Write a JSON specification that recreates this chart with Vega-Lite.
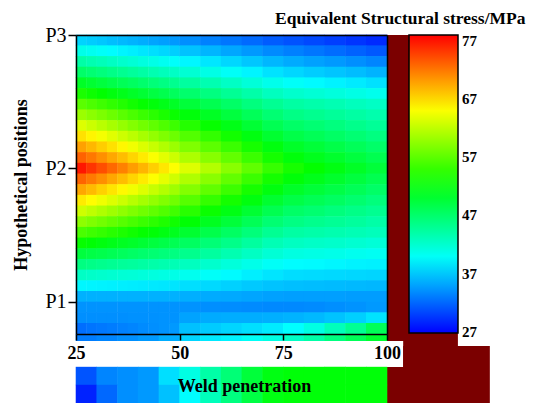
{
 "$schema": "https://vega.github.io/schema/vega-lite/v6.json",
 "width": 311,
 "height": 299,
 "autosize": "none",
 "padding": {"left": 76, "top": 35, "right": 158, "bottom": 69},
 "background": "white",
 "title": {"text": "Equivalent Structural stress/MPa", "anchor": "start", "frame": "group", "dx": 199, "dy": 11, "offset": 9, "font": "Liberation Serif", "fontSize": 17.5, "fontWeight": "bold", "color": "black"},
 "datasets": {
  "outside": [
   {"x": 100, "x2": 117.1, "y": 0.7075, "y2": 3},
   {"x": 103.9, "x2": 117.1, "y": 0.513, "y2": 0.7075},
   {"x": 103.9, "x2": 124.8, "y": 0.513, "y2": 0.67},
   {"x": 100, "x2": 124.8, "y": 0.243, "y2": 0.513}
  ],
  "left": [
   {"x":26.25,"y":2.96,"v":37.4},{"x":28.75,"y":2.96,"v":37.1},{"x":31.25,"y":2.96,"v":36.8},{"x":33.75,"y":2.96,"v":36.4},{"x":36.25,"y":2.96,"v":36.1},{"x":38.75,"y":2.96,"v":35.8},{"x":41.25,"y":2.96,"v":35.5},{"x":43.75,"y":2.96,"v":35.1},{"x":46.25,"y":2.96,"v":34.8},{"x":48.75,"y":2.96,"v":34.5},
   {"x":26.25,"y":2.88,"v":40.7},{"x":28.75,"y":2.88,"v":40.3},{"x":31.25,"y":2.88,"v":39.9},{"x":33.75,"y":2.88,"v":39.5},{"x":36.25,"y":2.88,"v":39.1},{"x":38.75,"y":2.88,"v":38.8},{"x":41.25,"y":2.88,"v":38.4},{"x":43.75,"y":2.88,"v":38.0},{"x":46.25,"y":2.88,"v":37.6},{"x":48.75,"y":2.88,"v":37.2},
   {"x":26.25,"y":2.80,"v":44.0},{"x":28.75,"y":2.80,"v":43.5},{"x":31.25,"y":2.80,"v":43.1},{"x":33.75,"y":2.80,"v":42.6},{"x":36.25,"y":2.80,"v":42.1},{"x":38.75,"y":2.80,"v":41.7},{"x":41.25,"y":2.80,"v":41.2},{"x":43.75,"y":2.80,"v":40.8},{"x":46.25,"y":2.80,"v":40.3},{"x":48.75,"y":2.80,"v":39.8},
   {"x":26.25,"y":2.72,"v":47.2},{"x":28.75,"y":2.72,"v":46.7},{"x":31.25,"y":2.72,"v":46.2},{"x":33.75,"y":2.72,"v":45.6},{"x":36.25,"y":2.72,"v":45.1},{"x":38.75,"y":2.72,"v":44.6},{"x":41.25,"y":2.72,"v":44.1},{"x":43.75,"y":2.72,"v":43.5},{"x":46.25,"y":2.72,"v":43.0},{"x":48.75,"y":2.72,"v":42.5},
   {"x":26.25,"y":2.64,"v":50.5},{"x":28.75,"y":2.64,"v":49.9},{"x":31.25,"y":2.64,"v":49.3},{"x":33.75,"y":2.64,"v":48.7},{"x":36.25,"y":2.64,"v":48.1},{"x":38.75,"y":2.64,"v":47.6},{"x":41.25,"y":2.64,"v":47.0},{"x":43.75,"y":2.64,"v":46.4},{"x":46.25,"y":2.64,"v":45.8},{"x":48.75,"y":2.64,"v":45.2},
   {"x":26.25,"y":2.56,"v":53.7},{"x":28.75,"y":2.56,"v":53.0},{"x":31.25,"y":2.56,"v":52.4},{"x":33.75,"y":2.56,"v":51.7},{"x":36.25,"y":2.56,"v":51.1},{"x":38.75,"y":2.56,"v":50.4},{"x":41.25,"y":2.56,"v":49.8},{"x":43.75,"y":2.56,"v":49.1},{"x":46.25,"y":2.56,"v":48.5},{"x":48.75,"y":2.56,"v":47.8},
   {"x":26.25,"y":2.48,"v":56.9},{"x":28.75,"y":2.48,"v":56.2},{"x":31.25,"y":2.48,"v":55.5},{"x":33.75,"y":2.48,"v":54.8},{"x":36.25,"y":2.48,"v":54.1},{"x":38.75,"y":2.48,"v":53.3},{"x":41.25,"y":2.48,"v":52.6},{"x":43.75,"y":2.48,"v":51.9},{"x":46.25,"y":2.48,"v":51.2},{"x":48.75,"y":2.48,"v":50.5},
   {"x":26.25,"y":2.40,"v":60.2},{"x":28.75,"y":2.40,"v":59.4},{"x":31.25,"y":2.40,"v":58.6},{"x":33.75,"y":2.40,"v":57.8},{"x":36.25,"y":2.40,"v":56.9},{"x":38.75,"y":2.40,"v":56.1},{"x":41.25,"y":2.40,"v":55.3},{"x":43.75,"y":2.40,"v":54.5},{"x":46.25,"y":2.40,"v":53.7},{"x":48.75,"y":2.40,"v":52.9},
   {"x":26.25,"y":2.32,"v":63.5},{"x":28.75,"y":2.32,"v":62.6},{"x":31.25,"y":2.32,"v":61.7},{"x":33.75,"y":2.32,"v":60.8},{"x":36.25,"y":2.32,"v":59.9},{"x":38.75,"y":2.32,"v":59.0},{"x":41.25,"y":2.32,"v":58.1},{"x":43.75,"y":2.32,"v":57.2},{"x":46.25,"y":2.32,"v":56.3},{"x":48.75,"y":2.32,"v":55.4},
   {"x":26.25,"y":2.24,"v":66.7},{"x":28.75,"y":2.24,"v":65.7},{"x":31.25,"y":2.24,"v":64.7},{"x":33.75,"y":2.24,"v":63.7},{"x":36.25,"y":2.24,"v":62.7},{"x":38.75,"y":2.24,"v":61.8},{"x":41.25,"y":2.24,"v":60.8},{"x":43.75,"y":2.24,"v":59.8},{"x":46.25,"y":2.24,"v":58.8},{"x":48.75,"y":2.24,"v":57.8},
   {"x":26.25,"y":2.16,"v":69.9},{"x":28.75,"y":2.16,"v":68.8},{"x":31.25,"y":2.16,"v":67.7},{"x":33.75,"y":2.16,"v":66.7},{"x":36.25,"y":2.16,"v":65.6},{"x":38.75,"y":2.16,"v":64.5},{"x":41.25,"y":2.16,"v":63.4},{"x":43.75,"y":2.16,"v":62.4},{"x":46.25,"y":2.16,"v":61.3},{"x":48.75,"y":2.16,"v":60.2},
   {"x":26.25,"y":2.08,"v":73.1},{"x":28.75,"y":2.08,"v":72.0},{"x":31.25,"y":2.08,"v":70.8},{"x":33.75,"y":2.08,"v":69.6},{"x":36.25,"y":2.08,"v":68.5},{"x":38.75,"y":2.08,"v":67.3},{"x":41.25,"y":2.08,"v":66.2},{"x":43.75,"y":2.08,"v":65.0},{"x":46.25,"y":2.08,"v":63.8},{"x":48.75,"y":2.08,"v":62.7},
   {"x":26.25,"y":2.00,"v":76.9},{"x":28.75,"y":2.00,"v":75.4},{"x":31.25,"y":2.00,"v":74.1},{"x":33.75,"y":2.00,"v":72.8},{"x":36.25,"y":2.00,"v":71.5},{"x":38.75,"y":2.00,"v":70.1},{"x":41.25,"y":2.00,"v":68.9},{"x":43.75,"y":2.00,"v":67.6},{"x":46.25,"y":2.00,"v":66.4},{"x":48.75,"y":2.00,"v":65.1},
   {"x":26.25,"y":1.92,"v":73.0},{"x":28.75,"y":1.92,"v":71.9},{"x":31.25,"y":1.92,"v":70.8},{"x":33.75,"y":1.92,"v":69.6},{"x":36.25,"y":1.92,"v":68.5},{"x":38.75,"y":1.92,"v":67.3},{"x":41.25,"y":1.92,"v":66.2},{"x":43.75,"y":1.92,"v":65.1},{"x":46.25,"y":1.92,"v":63.9},{"x":48.75,"y":1.92,"v":62.8},
   {"x":26.25,"y":1.84,"v":69.6},{"x":28.75,"y":1.84,"v":68.6},{"x":31.25,"y":1.84,"v":67.5},{"x":33.75,"y":1.84,"v":66.5},{"x":36.25,"y":1.84,"v":65.5},{"x":38.75,"y":1.84,"v":64.5},{"x":41.25,"y":1.84,"v":63.5},{"x":43.75,"y":1.84,"v":62.4},{"x":46.25,"y":1.84,"v":61.4},{"x":48.75,"y":1.84,"v":60.4},
   {"x":26.25,"y":1.76,"v":66.2},{"x":28.75,"y":1.76,"v":65.3},{"x":31.25,"y":1.76,"v":64.4},{"x":33.75,"y":1.76,"v":63.5},{"x":36.25,"y":1.76,"v":62.6},{"x":38.75,"y":1.76,"v":61.6},{"x":41.25,"y":1.76,"v":60.7},{"x":43.75,"y":1.76,"v":59.8},{"x":46.25,"y":1.76,"v":58.9},{"x":48.75,"y":1.76,"v":58.0},
   {"x":26.25,"y":1.68,"v":62.8},{"x":28.75,"y":1.68,"v":62.0},{"x":31.25,"y":1.68,"v":61.2},{"x":33.75,"y":1.68,"v":60.4},{"x":36.25,"y":1.68,"v":59.6},{"x":38.75,"y":1.68,"v":58.8},{"x":41.25,"y":1.68,"v":58.0},{"x":43.75,"y":1.68,"v":57.2},{"x":46.25,"y":1.68,"v":56.4},{"x":48.75,"y":1.68,"v":55.6},
   {"x":26.25,"y":1.60,"v":59.5},{"x":28.75,"y":1.60,"v":58.8},{"x":31.25,"y":1.60,"v":58.1},{"x":33.75,"y":1.60,"v":57.4},{"x":36.25,"y":1.60,"v":56.7},{"x":38.75,"y":1.60,"v":56.0},{"x":41.25,"y":1.60,"v":55.3},{"x":43.75,"y":1.60,"v":54.6},{"x":46.25,"y":1.60,"v":53.9},{"x":48.75,"y":1.60,"v":53.2},
   {"x":26.25,"y":1.52,"v":56.1},{"x":28.75,"y":1.52,"v":55.5},{"x":31.25,"y":1.52,"v":55.0},{"x":33.75,"y":1.52,"v":54.4},{"x":36.25,"y":1.52,"v":53.8},{"x":38.75,"y":1.52,"v":53.2},{"x":41.25,"y":1.52,"v":52.6},{"x":43.75,"y":1.52,"v":52.1},{"x":46.25,"y":1.52,"v":51.5},{"x":48.75,"y":1.52,"v":50.9},
   {"x":26.25,"y":1.44,"v":52.7},{"x":28.75,"y":1.44,"v":52.2},{"x":31.25,"y":1.44,"v":51.7},{"x":33.75,"y":1.44,"v":51.2},{"x":36.25,"y":1.44,"v":50.7},{"x":38.75,"y":1.44,"v":50.3},{"x":41.25,"y":1.44,"v":49.8},{"x":43.75,"y":1.44,"v":49.3},{"x":46.25,"y":1.44,"v":48.8},{"x":48.75,"y":1.44,"v":48.3},
   {"x":26.25,"y":1.36,"v":49.3},{"x":28.75,"y":1.36,"v":48.9},{"x":31.25,"y":1.36,"v":48.6},{"x":33.75,"y":1.36,"v":48.2},{"x":36.25,"y":1.36,"v":47.8},{"x":38.75,"y":1.36,"v":47.4},{"x":41.25,"y":1.36,"v":47.0},{"x":43.75,"y":1.36,"v":46.7},{"x":46.25,"y":1.36,"v":46.3},{"x":48.75,"y":1.36,"v":45.9},
   {"x":26.25,"y":1.28,"v":45.9},{"x":28.75,"y":1.28,"v":45.6},{"x":31.25,"y":1.28,"v":45.3},{"x":33.75,"y":1.28,"v":45.0},{"x":36.25,"y":1.28,"v":44.7},{"x":38.75,"y":1.28,"v":44.5},{"x":41.25,"y":1.28,"v":44.2},{"x":43.75,"y":1.28,"v":43.9},{"x":46.25,"y":1.28,"v":43.6},{"x":48.75,"y":1.28,"v":43.3},
   {"x":26.25,"y":1.20,"v":42.5},{"x":28.75,"y":1.20,"v":42.3},{"x":31.25,"y":1.20,"v":42.1},{"x":33.75,"y":1.20,"v":41.9},{"x":36.25,"y":1.20,"v":41.7},{"x":38.75,"y":1.20,"v":41.6},{"x":41.25,"y":1.20,"v":41.4},{"x":43.75,"y":1.20,"v":41.2},{"x":46.25,"y":1.20,"v":41.0},{"x":48.75,"y":1.20,"v":40.8},
   {"x":26.25,"y":1.12,"v":39.2},{"x":28.75,"y":1.12,"v":39.1},{"x":31.25,"y":1.12,"v":39.0},{"x":33.75,"y":1.12,"v":38.9},{"x":36.25,"y":1.12,"v":38.8},{"x":38.75,"y":1.12,"v":38.7},{"x":41.25,"y":1.12,"v":38.6},{"x":43.75,"y":1.12,"v":38.5},{"x":46.25,"y":1.12,"v":38.4},{"x":48.75,"y":1.12,"v":38.3},
   {"x":26.25,"y":1.04,"v":35.7},{"x":28.75,"y":1.04,"v":35.7},{"x":31.25,"y":1.04,"v":35.7},{"x":33.75,"y":1.04,"v":35.7},{"x":36.25,"y":1.04,"v":35.7},{"x":38.75,"y":1.04,"v":35.7},{"x":41.25,"y":1.04,"v":35.7},{"x":43.75,"y":1.04,"v":35.7},{"x":46.25,"y":1.04,"v":35.7},{"x":48.75,"y":1.04,"v":35.7},
   {"x":26.25,"y":0.96,"v":34.2},{"x":28.75,"y":0.96,"v":34.2},{"x":31.25,"y":0.96,"v":34.2},{"x":33.75,"y":0.96,"v":34.2},{"x":36.25,"y":0.96,"v":34.2},{"x":38.75,"y":0.96,"v":34.2},{"x":41.25,"y":0.96,"v":34.2},{"x":43.75,"y":0.96,"v":34.2},{"x":46.25,"y":0.96,"v":34.2},{"x":48.75,"y":0.96,"v":34.2},
   {"x":26.25,"y":0.88,"v":34.0},{"x":28.75,"y":0.88,"v":34.0},{"x":31.25,"y":0.88,"v":34.0},{"x":33.75,"y":0.88,"v":34.0},{"x":36.25,"y":0.88,"v":34.0},{"x":38.75,"y":0.88,"v":34.1},{"x":41.25,"y":0.88,"v":34.1},{"x":43.75,"y":0.88,"v":34.1},{"x":46.25,"y":0.88,"v":34.2},{"x":48.75,"y":0.88,"v":34.2},
   {"x":26.25,"y":0.80,"v":32.3},{"x":28.75,"y":0.80,"v":32.6},{"x":31.25,"y":0.80,"v":32.8},{"x":33.75,"y":0.80,"v":33.0},{"x":36.25,"y":0.80,"v":33.3},{"x":38.75,"y":0.80,"v":33.5},{"x":41.25,"y":0.80,"v":33.8},{"x":43.75,"y":0.80,"v":34.0},{"x":46.25,"y":0.80,"v":34.2},{"x":48.75,"y":0.80,"v":34.5}
  ],
  "right": [
   {"x":52.5,"y":2.96,"v":34.0},{"x":57.5,"y":2.96,"v":33.3},{"x":62.5,"y":2.96,"v":32.7},{"x":67.5,"y":2.96,"v":32.1},{"x":72.5,"y":2.96,"v":31.4},{"x":77.5,"y":2.96,"v":30.9},{"x":82.5,"y":2.96,"v":30.4},{"x":87.5,"y":2.96,"v":29.9},{"x":92.5,"y":2.96,"v":29.4},{"x":97.5,"y":2.96,"v":28.9},
   {"x":52.5,"y":2.88,"v":36.6},{"x":57.5,"y":2.88,"v":35.9},{"x":62.5,"y":2.88,"v":35.2},{"x":67.5,"y":2.88,"v":34.5},{"x":72.5,"y":2.88,"v":33.8},{"x":77.5,"y":2.88,"v":33.2},{"x":82.5,"y":2.88,"v":32.7},{"x":87.5,"y":2.88,"v":32.2},{"x":92.5,"y":2.88,"v":31.7},{"x":97.5,"y":2.88,"v":31.2},
   {"x":52.5,"y":2.80,"v":39.2},{"x":57.5,"y":2.80,"v":38.4},{"x":62.5,"y":2.80,"v":37.6},{"x":67.5,"y":2.80,"v":36.8},{"x":72.5,"y":2.80,"v":36.0},{"x":77.5,"y":2.80,"v":35.4},{"x":82.5,"y":2.80,"v":34.9},{"x":87.5,"y":2.80,"v":34.5},{"x":92.5,"y":2.80,"v":34.0},{"x":97.5,"y":2.80,"v":33.5},
   {"x":52.5,"y":2.72,"v":41.8},{"x":57.5,"y":2.72,"v":40.9},{"x":62.5,"y":2.72,"v":40.0},{"x":67.5,"y":2.72,"v":39.1},{"x":72.5,"y":2.72,"v":38.2},{"x":77.5,"y":2.72,"v":37.6},{"x":82.5,"y":2.72,"v":37.1},{"x":87.5,"y":2.72,"v":36.7},{"x":92.5,"y":2.72,"v":36.3},{"x":97.5,"y":2.72,"v":35.8},
   {"x":52.5,"y":2.64,"v":44.4},{"x":57.5,"y":2.64,"v":43.5},{"x":62.5,"y":2.64,"v":42.5},{"x":67.5,"y":2.64,"v":41.5},{"x":72.5,"y":2.64,"v":40.6},{"x":77.5,"y":2.64,"v":39.9},{"x":82.5,"y":2.64,"v":39.4},{"x":87.5,"y":2.64,"v":39.0},{"x":92.5,"y":2.64,"v":38.6},{"x":97.5,"y":2.64,"v":38.1},
   {"x":52.5,"y":2.56,"v":47.0},{"x":57.5,"y":2.56,"v":46.0},{"x":62.5,"y":2.56,"v":44.9},{"x":67.5,"y":2.56,"v":43.9},{"x":72.5,"y":2.56,"v":42.8},{"x":77.5,"y":2.56,"v":42.1},{"x":82.5,"y":2.56,"v":41.7},{"x":87.5,"y":2.56,"v":41.3},{"x":92.5,"y":2.56,"v":40.9},{"x":97.5,"y":2.56,"v":40.5},
   {"x":52.5,"y":2.48,"v":49.5},{"x":57.5,"y":2.48,"v":48.4},{"x":62.5,"y":2.48,"v":47.3},{"x":67.5,"y":2.48,"v":46.1},{"x":72.5,"y":2.48,"v":45.0},{"x":77.5,"y":2.48,"v":44.2},{"x":82.5,"y":2.48,"v":43.8},{"x":87.5,"y":2.48,"v":43.4},{"x":92.5,"y":2.48,"v":42.9},{"x":97.5,"y":2.48,"v":42.5},
   {"x":52.5,"y":2.40,"v":51.9},{"x":57.5,"y":2.40,"v":50.6},{"x":62.5,"y":2.40,"v":49.3},{"x":67.5,"y":2.40,"v":48.0},{"x":72.5,"y":2.40,"v":46.7},{"x":77.5,"y":2.40,"v":45.7},{"x":82.5,"y":2.40,"v":45.2},{"x":87.5,"y":2.40,"v":44.7},{"x":92.5,"y":2.40,"v":44.2},{"x":97.5,"y":2.40,"v":43.7},
   {"x":52.5,"y":2.32,"v":54.2},{"x":57.5,"y":2.32,"v":52.7},{"x":62.5,"y":2.32,"v":51.3},{"x":67.5,"y":2.32,"v":49.8},{"x":72.5,"y":2.32,"v":48.3},{"x":77.5,"y":2.32,"v":47.3},{"x":82.5,"y":2.32,"v":46.7},{"x":87.5,"y":2.32,"v":46.1},{"x":92.5,"y":2.32,"v":45.4},{"x":97.5,"y":2.32,"v":44.8},
   {"x":52.5,"y":2.24,"v":56.5},{"x":57.5,"y":2.24,"v":54.9},{"x":62.5,"y":2.24,"v":53.3},{"x":67.5,"y":2.24,"v":51.6},{"x":72.5,"y":2.24,"v":50.0},{"x":77.5,"y":2.24,"v":48.8},{"x":82.5,"y":2.24,"v":48.1},{"x":87.5,"y":2.24,"v":47.4},{"x":92.5,"y":2.24,"v":46.7},{"x":97.5,"y":2.24,"v":46.0},
   {"x":52.5,"y":2.16,"v":58.8},{"x":57.5,"y":2.16,"v":57.0},{"x":62.5,"y":2.16,"v":55.3},{"x":67.5,"y":2.16,"v":53.5},{"x":72.5,"y":2.16,"v":51.7},{"x":77.5,"y":2.16,"v":50.4},{"x":82.5,"y":2.16,"v":49.6},{"x":87.5,"y":2.16,"v":48.8},{"x":92.5,"y":2.16,"v":48.0},{"x":97.5,"y":2.16,"v":47.2},
   {"x":52.5,"y":2.08,"v":61.1},{"x":57.5,"y":2.08,"v":59.2},{"x":62.5,"y":2.08,"v":57.3},{"x":67.5,"y":2.08,"v":55.3},{"x":72.5,"y":2.08,"v":53.4},{"x":77.5,"y":2.08,"v":51.9},{"x":82.5,"y":2.08,"v":51.0},{"x":87.5,"y":2.08,"v":50.2},{"x":92.5,"y":2.08,"v":49.3},{"x":97.5,"y":2.08,"v":48.4},
   {"x":52.5,"y":2.00,"v":63.5},{"x":57.5,"y":2.00,"v":61.4},{"x":62.5,"y":2.00,"v":59.3},{"x":67.5,"y":2.00,"v":57.2},{"x":72.5,"y":2.00,"v":55.1},{"x":77.5,"y":2.00,"v":53.5},{"x":82.5,"y":2.00,"v":52.5},{"x":87.5,"y":2.00,"v":51.5},{"x":92.5,"y":2.00,"v":50.5},{"x":97.5,"y":2.00,"v":49.5},
   {"x":52.5,"y":1.92,"v":61.2},{"x":57.5,"y":1.92,"v":59.3},{"x":62.5,"y":1.92,"v":57.3},{"x":67.5,"y":1.92,"v":55.3},{"x":72.5,"y":1.92,"v":53.4},{"x":77.5,"y":1.92,"v":52.0},{"x":82.5,"y":1.92,"v":51.1},{"x":87.5,"y":1.92,"v":50.2},{"x":92.5,"y":1.92,"v":49.3},{"x":97.5,"y":1.92,"v":48.4},
   {"x":52.5,"y":1.84,"v":59.0},{"x":57.5,"y":1.84,"v":57.2},{"x":62.5,"y":1.84,"v":55.4},{"x":67.5,"y":1.84,"v":53.5},{"x":72.5,"y":1.84,"v":51.7},{"x":77.5,"y":1.84,"v":50.4},{"x":82.5,"y":1.84,"v":49.6},{"x":87.5,"y":1.84,"v":48.9},{"x":92.5,"y":1.84,"v":48.1},{"x":97.5,"y":1.84,"v":47.3},
   {"x":52.5,"y":1.76,"v":56.7},{"x":57.5,"y":1.76,"v":55.0},{"x":62.5,"y":1.76,"v":53.4},{"x":67.5,"y":1.76,"v":51.7},{"x":72.5,"y":1.76,"v":50.0},{"x":77.5,"y":1.76,"v":48.9},{"x":82.5,"y":1.76,"v":48.2},{"x":87.5,"y":1.76,"v":47.6},{"x":92.5,"y":1.76,"v":46.9},{"x":97.5,"y":1.76,"v":46.2},
   {"x":52.5,"y":1.68,"v":54.4},{"x":57.5,"y":1.68,"v":52.9},{"x":62.5,"y":1.68,"v":51.4},{"x":67.5,"y":1.68,"v":49.9},{"x":72.5,"y":1.68,"v":48.4},{"x":77.5,"y":1.68,"v":47.3},{"x":82.5,"y":1.68,"v":46.8},{"x":87.5,"y":1.68,"v":46.2},{"x":92.5,"y":1.68,"v":45.6},{"x":97.5,"y":1.68,"v":45.1},
   {"x":52.5,"y":1.60,"v":52.2},{"x":57.5,"y":1.60,"v":50.8},{"x":62.5,"y":1.60,"v":49.5},{"x":67.5,"y":1.60,"v":48.1},{"x":72.5,"y":1.60,"v":46.7},{"x":77.5,"y":1.60,"v":45.8},{"x":82.5,"y":1.60,"v":45.3},{"x":87.5,"y":1.60,"v":44.9},{"x":92.5,"y":1.60,"v":44.5},{"x":97.5,"y":1.60,"v":44.0},
   {"x":52.5,"y":1.52,"v":50.0},{"x":57.5,"y":1.52,"v":48.7},{"x":62.5,"y":1.52,"v":47.5},{"x":67.5,"y":1.52,"v":46.3},{"x":72.5,"y":1.52,"v":45.0},{"x":77.5,"y":1.52,"v":44.2},{"x":82.5,"y":1.52,"v":43.9},{"x":87.5,"y":1.52,"v":43.6},{"x":92.5,"y":1.52,"v":43.3},{"x":97.5,"y":1.52,"v":43.0},
   {"x":52.5,"y":1.44,"v":47.6},{"x":57.5,"y":1.44,"v":46.5},{"x":62.5,"y":1.44,"v":45.5},{"x":67.5,"y":1.44,"v":44.4},{"x":72.5,"y":1.44,"v":43.3},{"x":77.5,"y":1.44,"v":42.7},{"x":82.5,"y":1.44,"v":42.4},{"x":87.5,"y":1.44,"v":42.2},{"x":92.5,"y":1.44,"v":41.9},{"x":97.5,"y":1.44,"v":41.6},
   {"x":52.5,"y":1.36,"v":45.3},{"x":57.5,"y":1.36,"v":44.4},{"x":62.5,"y":1.36,"v":43.5},{"x":67.5,"y":1.36,"v":42.6},{"x":72.5,"y":1.36,"v":41.7},{"x":77.5,"y":1.36,"v":41.1},{"x":82.5,"y":1.36,"v":40.9},{"x":87.5,"y":1.36,"v":40.7},{"x":92.5,"y":1.36,"v":40.4},{"x":97.5,"y":1.36,"v":40.2},
   {"x":52.5,"y":1.28,"v":42.8},{"x":57.5,"y":1.28,"v":42.1},{"x":62.5,"y":1.28,"v":41.4},{"x":67.5,"y":1.28,"v":40.7},{"x":72.5,"y":1.28,"v":40.0},{"x":77.5,"y":1.28,"v":39.5},{"x":82.5,"y":1.28,"v":39.4},{"x":87.5,"y":1.28,"v":39.2},{"x":92.5,"y":1.28,"v":39.0},{"x":97.5,"y":1.28,"v":38.9},
   {"x":52.5,"y":1.20,"v":40.4},{"x":57.5,"y":1.20,"v":39.9},{"x":62.5,"y":1.20,"v":39.4},{"x":67.5,"y":1.20,"v":38.8},{"x":72.5,"y":1.20,"v":38.3},{"x":77.5,"y":1.20,"v":37.9},{"x":82.5,"y":1.20,"v":37.8},{"x":87.5,"y":1.20,"v":37.7},{"x":92.5,"y":1.20,"v":37.6},{"x":97.5,"y":1.20,"v":37.5},
   {"x":52.5,"y":1.12,"v":38.0},{"x":57.5,"y":1.12,"v":37.7},{"x":62.5,"y":1.12,"v":37.3},{"x":67.5,"y":1.12,"v":36.9},{"x":72.5,"y":1.12,"v":36.6},{"x":77.5,"y":1.12,"v":36.4},{"x":82.5,"y":1.12,"v":36.3},{"x":87.5,"y":1.12,"v":36.2},{"x":92.5,"y":1.12,"v":36.1},{"x":97.5,"y":1.12,"v":36.0},
   {"x":52.5,"y":1.04,"v":35.6},{"x":57.5,"y":1.04,"v":35.4},{"x":62.5,"y":1.04,"v":35.3},{"x":67.5,"y":1.04,"v":35.1},{"x":72.5,"y":1.04,"v":34.9},{"x":77.5,"y":1.04,"v":34.8},{"x":82.5,"y":1.04,"v":34.8},{"x":87.5,"y":1.04,"v":34.8},{"x":92.5,"y":1.04,"v":34.7},{"x":97.5,"y":1.04,"v":34.7},
   {"x":52.5,"y":0.96,"v":34.2},{"x":57.5,"y":0.96,"v":34.0},{"x":62.5,"y":0.96,"v":33.9},{"x":67.5,"y":0.96,"v":33.8},{"x":72.5,"y":0.96,"v":33.7},{"x":77.5,"y":0.96,"v":33.7},{"x":82.5,"y":0.96,"v":33.8},{"x":87.5,"y":0.96,"v":34.0},{"x":92.5,"y":0.96,"v":34.2},{"x":97.5,"y":0.96,"v":34.5},
   {"x":52.5,"y":0.88,"v":35.0},{"x":57.5,"y":0.88,"v":35.4},{"x":62.5,"y":0.88,"v":35.5},{"x":67.5,"y":0.88,"v":35.5},{"x":72.5,"y":0.88,"v":35.6},{"x":77.5,"y":0.88,"v":35.8},{"x":82.5,"y":0.88,"v":36.1},{"x":87.5,"y":0.88,"v":36.6},{"x":92.5,"y":0.88,"v":37.2},{"x":97.5,"y":0.88,"v":38.2},
   {"x":52.5,"y":0.80,"v":36.5},{"x":57.5,"y":0.80,"v":37.0},{"x":62.5,"y":0.80,"v":37.5},{"x":67.5,"y":0.80,"v":38.0},{"x":72.5,"y":0.80,"v":38.6},{"x":77.5,"y":0.80,"v":39.6},{"x":82.5,"y":0.80,"v":41.0},{"x":87.5,"y":0.80,"v":43.0},{"x":92.5,"y":0.80,"v":45.0},{"x":97.5,"y":0.80,"v":48.0}
  ],
  "strip": [
   {"x":27.5,"y":0.7337,"v":33.0},{"x":32.5,"y":0.7337,"v":33.5},{"x":37.5,"y":0.7337,"v":34.0},{"x":42.5,"y":0.7337,"v":34.5},{"x":47.5,"y":0.7337,"v":35.5},{"x":52.5,"y":0.7337,"v":37.5},{"x":57.5,"y":0.7337,"v":38.5},{"x":62.5,"y":0.7337,"v":39.0},{"x":67.5,"y":0.7337,"v":40.0},{"x":72.5,"y":0.7337,"v":41.0},{"x":77.5,"y":0.7337,"v":42.5},{"x":82.5,"y":0.7337,"v":44.0},{"x":87.5,"y":0.7337,"v":46.0},{"x":92.5,"y":0.7337,"v":48.0},{"x":97.5,"y":0.7337,"v":50.0}
  ],
  "bottom": [
   {"x":27.5,"y":0.4453,"v":31.0},{"x":32.5,"y":0.4453,"v":33.5},{"x":37.5,"y":0.4453,"v":34.0},{"x":42.5,"y":0.4453,"v":34.5},{"x":47.5,"y":0.4453,"v":38.0},{"x":52.5,"y":0.4453,"v":41.0},{"x":57.5,"y":0.4453,"v":44.0},{"x":62.5,"y":0.4453,"v":46.5},{"x":67.5,"y":0.4453,"v":49.5},{"x":72.5,"y":0.4453,"v":51.5},{"x":77.5,"y":0.4453,"v":52.0},{"x":82.5,"y":0.4453,"v":52.0},{"x":87.5,"y":0.4453,"v":52.0},{"x":92.5,"y":0.4453,"v":52.0},{"x":97.5,"y":0.4453,"v":52.0},
   {"x":27.5,"y":0.3105,"v":28.5},{"x":32.5,"y":0.3105,"v":32.0},{"x":37.5,"y":0.3105,"v":34.0},{"x":42.5,"y":0.3105,"v":34.5},{"x":47.5,"y":0.3105,"v":36.5},{"x":52.5,"y":0.3105,"v":39.5},{"x":57.5,"y":0.3105,"v":43.0},{"x":62.5,"y":0.3105,"v":46.0},{"x":67.5,"y":0.3105,"v":49.0},{"x":72.5,"y":0.3105,"v":51.5},{"x":77.5,"y":0.3105,"v":52.0},{"x":82.5,"y":0.3105,"v":52.0},{"x":87.5,"y":0.3105,"v":52.0},{"x":92.5,"y":0.3105,"v":52.0},{"x":97.5,"y":0.3105,"v":52.0}
  ]
 },
 "layer": [
  {
   "data": {"name": "outside"},
   "mark": {"type": "rect", "color": "#7b0000"},
   "encoding": {
    "x": {"field": "x", "type": "quantitative", "scale": {"domain": [25, 100], "nice": false, "zero": false},
          "axis": {"orient": "top", "labels": false, "ticks": false, "title": null, "grid": false, "zindex": 1}},
    "x2": {"field": "x2"},
    "y": {"field": "y", "type": "quantitative", "scale": {"domain": [0.76, 3], "nice": false, "zero": false},
          "axis": {"orient": "right", "labels": false, "ticks": false, "title": null, "grid": false, "zindex": 1}},
    "y2": {"field": "y2"}
   }
  },
  {
   "data": {"name": "left"},
   "mark": {"type": "rect", "width": 10.8, "height": 11.3},
   "encoding": {
    "x": {"field": "x", "type": "quantitative", "scale": {"domain": [25, 100], "nice": false, "zero": false},
          "axis": {"orient": "bottom", "values": [25, 50, 75, 100], "labelFlush": false, "labelOverlap": false,
                   "labelFontSize": 18, "labelFontWeight": "bold", "tickSize": 6, "labelPadding": 4,
                   "title": "Weld penetration", "titleFontSize": 18, "titleFontWeight": "bold",
                   "titleX": 168, "titleY": 57, "titleAlign": "center", "titleBaseline": "alphabetic", "zindex": 1}},
    "y": {"field": "y", "type": "quantitative", "scale": {"domain": [0.76, 3], "nice": false, "zero": false},
          "axis": {"orient": "left", "values": [1, 2, 3], "labelExpr": "'P' + datum.value", "labelFontSize": 20,
                   "labelFontWeight": "normal", "tickSize": 8, "labelPadding": 2,
                   "title": "Hypothetical positions", "titleFontSize": 18, "titleFontWeight": "bold",
                   "titleX": -55, "titleY": 149.5, "titleAngle": -90, "titleAlign": "center", "titleBaseline": "middle", "zindex": 1}},
    "color": {"field": "v", "type": "quantitative",
              "scale": {"domain": [26.8, 39.6, 52.4, 65.2, 78], "range": ["#0000ff", "#00ffff", "#00ff00", "#ffff00", "#ff0000"], "interpolate": "rgb"},
              "legend": {"type": "gradient", "direction": "vertical", "orient": "none", "legendX": 333, "legendY": 0,
                         "title": null, "values": [27, 37, 47, 57, 67, 77], "gradientLength": 298, "gradientThickness": 49,
                         "gradientStrokeColor": "black", "gradientStrokeWidth": 1.5, "labelFont": "Liberation Serif",
                         "labelFontSize": 15, "labelFontWeight": "bold", "labelColor": "black", "labelOffset": 4,
                         "labelOverlap": false, "padding": 0}}
   }
  },
  {
   "data": {"name": "right"},
   "mark": {"type": "rect", "width": 21.3, "height": 11.3},
   "encoding": {
    "x": {"field": "x", "type": "quantitative", "scale": {"domain": [25, 100], "nice": false, "zero": false}, "axis": null},
    "y": {"field": "y", "type": "quantitative", "scale": {"domain": [0.76, 3], "nice": false, "zero": false}, "axis": null},
    "color": {"field": "v", "type": "quantitative",
              "scale": {"domain": [26.8, 39.6, 52.4, 65.2, 78], "range": ["#0000ff", "#00ffff", "#00ff00", "#ffff00", "#ff0000"], "interpolate": "rgb"},
              "legend": null}
   }
  },
  {
   "data": {"name": "strip"},
   "mark": {"type": "rect", "width": 21.3, "height": 7},
   "encoding": {
    "x": {"field": "x", "type": "quantitative", "scale": {"domain": [25, 100], "nice": false, "zero": false}, "axis": null},
    "y": {"field": "y", "type": "quantitative", "scale": {"domain": [0.76, 3], "nice": false, "zero": false}, "axis": null},
    "color": {"field": "v", "type": "quantitative",
              "scale": {"domain": [26.8, 39.6, 52.4, 65.2, 78], "range": ["#0000ff", "#00ffff", "#00ff00", "#ffff00", "#ff0000"], "interpolate": "rgb"},
              "legend": null}
   }
  },
  {
   "data": {"name": "bottom"},
   "mark": {"type": "rect", "width": 21.3, "height": 18.4},
   "encoding": {
    "x": {"field": "x", "type": "quantitative", "scale": {"domain": [25, 100], "nice": false, "zero": false}, "axis": null},
    "y": {"field": "y", "type": "quantitative", "scale": {"domain": [0.76, 3], "nice": false, "zero": false}, "axis": null},
    "color": {"field": "v", "type": "quantitative",
              "scale": {"domain": [26.8, 39.6, 52.4, 65.2, 78], "range": ["#0000ff", "#00ffff", "#00ff00", "#ffff00", "#ff0000"], "interpolate": "rgb"},
              "legend": null}
   }
  }
 ],
 "resolve": {"axis": {"x": "independent", "y": "independent"}},
 "config": {
  "view": {"stroke": null},
  "axis": {"grid": false, "domainColor": "black", "domainWidth": 1.5, "tickColor": "black", "tickWidth": 1.5,
           "labelColor": "black", "titleColor": "black", "labelFont": "Liberation Serif", "titleFont": "Liberation Serif"}
 }
}
